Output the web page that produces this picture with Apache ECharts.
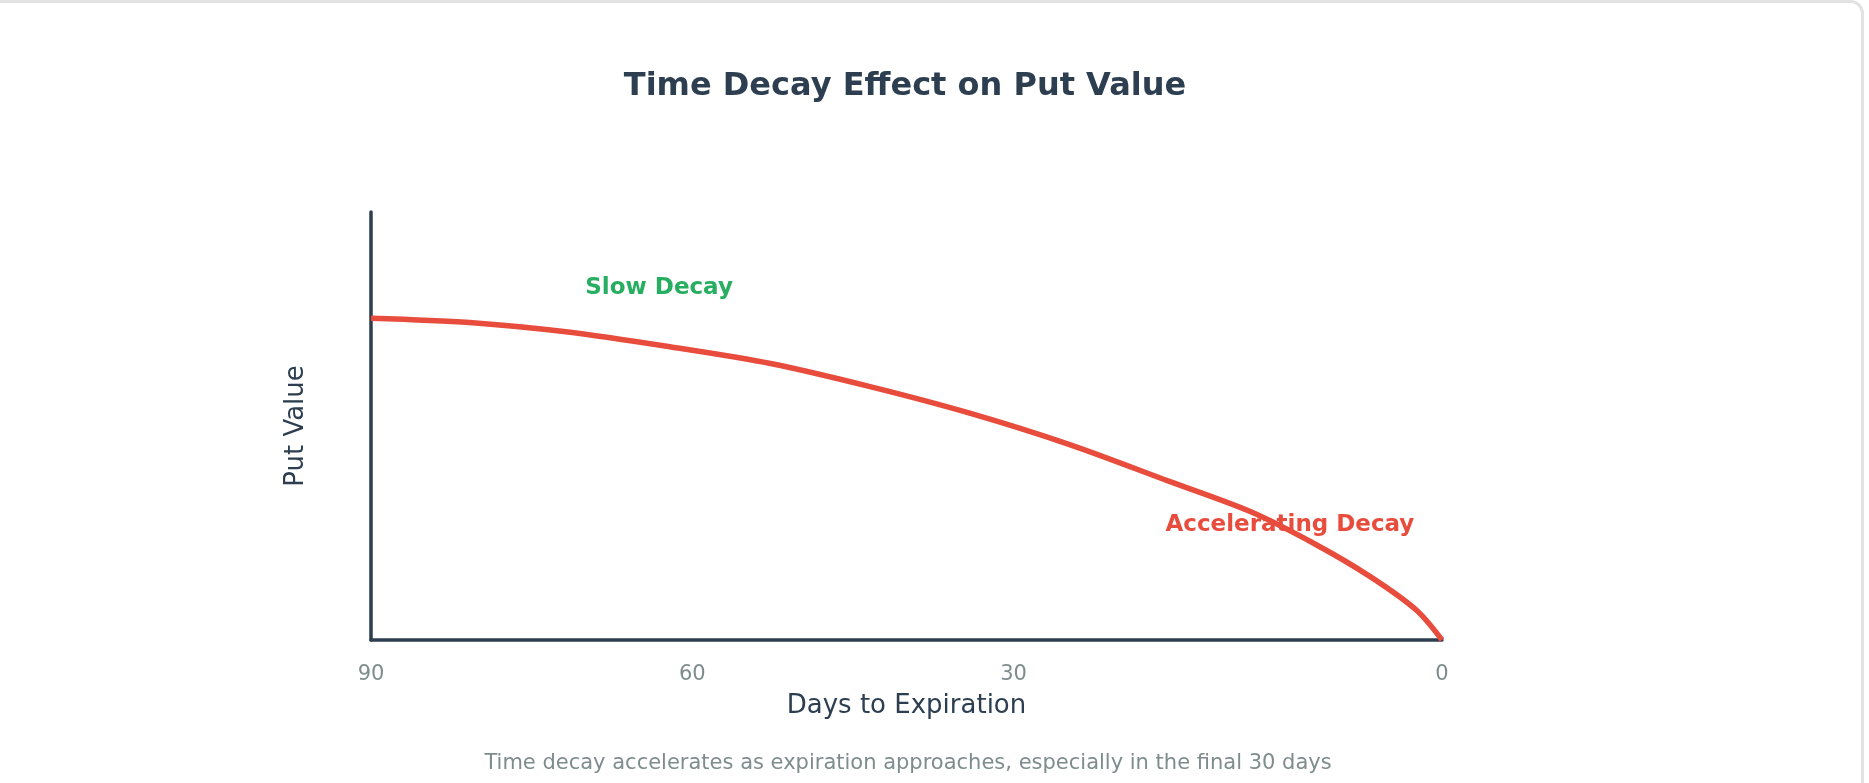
<!DOCTYPE html>
<html>
<head>
<meta charset="utf-8">
<title>Time Decay Effect on Put Value</title>
<script src="https://cdn.jsdelivr.net/npm/echarts@6/dist/echarts.min.js"></script>
<style>
  html, body { margin: 0; padding: 0; background: #fff; }
  #chart { width: 1869px; height: 783px; }
</style>
</head>
<body>
<div id="chart"></div>
<script>
// time axis runs 0..100 (left = 90 days out, right = expiration)
const curveX = [0, 9.2, 18.6, 27.9, 37.3, 46.6, 55.9, 65.3, 74.6, 82.1, 88.3, 93.3, 97.6, 100];
const curveY = [75.2, 74.2, 71.9, 68.5, 64.6, 59.2, 53.0, 45.6, 37.0, 30.0, 22.2, 14.8, 7.0, 0];

// tick positions on that axis and the day labels shown there
const xTickPos = [0, 30, 60, 100];
const xTickLabels = ['90', '60', '30', '0'];

// annotations
const annotationText = ['Slow Decay', 'Accelerating Decay'];
const annotationX = [26.9, 85.8];
const annotationY = [82.2, 26.8];
const annotationColors = ['#27ae60', '#e74c3c'];

const titleText = 'Time Decay Effect on Put Value';
const footText = 'Time decay accelerates as expiration approaches, especially in the final 30 days';

const FONT = 'DejaVu Sans';

const chart = echarts.init(document.getElementById('chart'));

const option = {
  backgroundColor: '#fff',
  animation: false,
  grid: { left: 371, top: 212, right: 427, bottom: 143 },
  graphic: [
    {
      // card border
      type: 'rect',
      silent: true,
      shape: { x: -20, y: 1.5, width: 1882.5, height: 900, r: 12 },
      style: { fill: 'transparent', stroke: '#e2e2e2', lineWidth: 3 }
    },
    {
      type: 'text',
      x: 905, y: 87,
      style: {
        text: titleText,
        fontFamily: FONT, fontSize: 32, fontWeight: 'bold',
        fill: '#2c3e50', textAlign: 'center', textVerticalAlign: 'middle'
      }
    },
    {
      type: 'text',
      x: 908, y: 764,
      style: {
        text: footText,
        fontFamily: FONT, fontSize: 21,
        fill: '#7f8c8d', textAlign: 'center', textVerticalAlign: 'middle'
      }
    }
  ],
  xAxis: {
    type: 'value',
    min: 0,
    max: 100,
    interval: 10,
    name: 'Days to Expiration',
    nameLocation: 'middle',
    nameGap: 53,
    nameTextStyle: { fontFamily: FONT, fontSize: 26, color: '#2c3e50' },
    axisLine: { show: true, lineStyle: { color: '#2c3e50', width: 3.5 } },
    axisTick: { show: false },
    splitLine: { show: false },
    axisLabel: {
      margin: 24,
      fontFamily: FONT,
      fontSize: 21,
      color: '#7f8c8d',
      formatter: function (v) {
        const i = xTickPos.indexOf(v);
        return i >= 0 ? xTickLabels[i] : '';
      }
    }
  },
  yAxis: {
    type: 'value',
    min: 0,
    max: 100,
    name: 'Put Value',
    nameLocation: 'middle',
    nameRotate: 90,
    nameGap: 62,
    nameTextStyle: { fontFamily: FONT, fontSize: 26, color: '#2c3e50' },
    axisLine: { show: true, lineStyle: { color: '#2c3e50', width: 3.5 } },
    axisTick: { show: false },
    axisLabel: { show: false },
    splitLine: { show: false }
  },
  series: [
    {
      name: 'Put Value',
      type: 'line',
      data: curveX.map((x, i) => [x, curveY[i]]),
      smooth: 0.3,
      showSymbol: false,
      lineStyle: { color: '#e74c3c', width: 5.5 },
      silent: true,
      z: 3
    },
    {
      name: 'notes',
      type: 'scatter',
      symbolSize: 0,
      silent: true,
      z: 4,
      itemStyle: { opacity: 1 },
      data: annotationText.map((t, i) => ({
        value: [annotationX[i], annotationY[i]],
        name: t,
        label: { color: annotationColors[i] }
      })),
      label: {
        show: true,
        position: 'inside',
        formatter: '{b}',
        fontFamily: FONT,
        fontSize: 23,
        fontWeight: 'bold',
        opacity: 1
      }
    }
  ]
};

chart.setOption(option);
window.addEventListener('resize', function () { chart.resize(); });
</script>
</body>
</html>
